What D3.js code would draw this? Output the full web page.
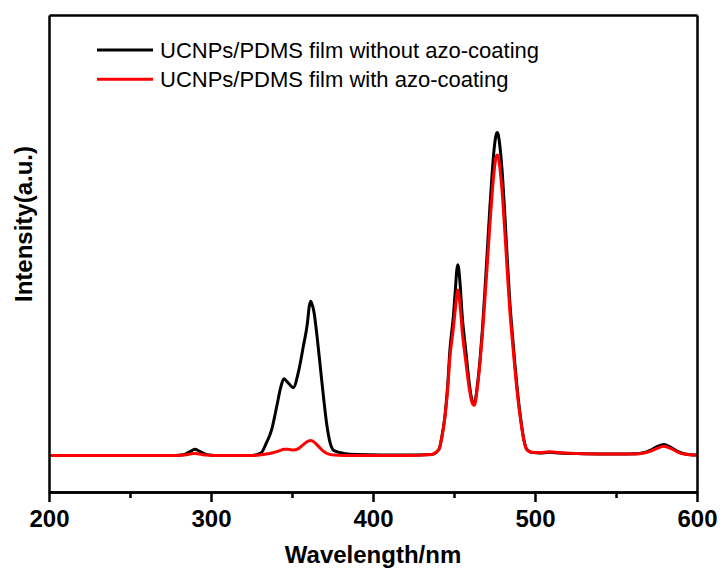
<!DOCTYPE html>
<meta charset="utf-8">
<style>

body {
  margin: 0;
  background: #fff;
}

.axis path,
.axis line {
  fill: none;
  stroke: #000;
  stroke-width: 2.5px;
}

.axis text {
  font: bold 24px "Liberation Sans", Arial, sans-serif;
  fill: #000;
}

.line {
  fill: none;
  stroke-width: 3px;
  stroke-linejoin: round;
}

.legend text {
  font: 22px "Liberation Sans", Arial, sans-serif;
  fill: #000;
}

.label {
  font: bold 24px "Liberation Sans", Arial, sans-serif;
  fill: #000;
}

</style>
<svg class="chart"></svg>
<script src="https://d3js.org/d3.v7.min.js"></script>
<script>

// wavelength samples (nm)
var wavelength = [200, 250, 278, 283, 287, 290, 293, 297, 302, 325,
  331, 334, 337.5, 340.6, 343, 345, 347.5, 350.8, 353.9, 357,
  359.5, 360.6, 361.5, 362.4, 363.5, 365.5, 367.5, 369.5, 371.5, 373.5, 376, 382,
  390, 420, 436, 440.7, 442.5, 444.4, 446, 447.5, 449.6, 451,
  451.7, 452.3, 452.9, 453.7, 455.1, 457.2, 459.5, 461, 462.5, 464.5, 466, 467.5,
  469, 470.5, 472, 473.5, 475, 475.9, 476.7, 477.5, 478.4, 480, 481.5, 483,
  484.5, 486, 487.6, 489.5, 491.4, 493, 494.9, 498, 503, 509, 515,
  530, 550, 562, 567, 571, 575, 579.6, 584, 588, 592,
  596, 600];

// UCNPs/PDMS film without azo-coating
var withoutCoating = [0, 0, 0, 0.2, 1.1, 1.8, 1.2, 0.3, 0, 0,
  0.8, 3.5, 7.7, 14.5, 20, 22.6, 21.5, 20, 24.5, 32.2,
  39, 43.8, 45.5, 44.6, 42.5, 35, 26, 17, 9, 3.8, 1.4, 0.6,
  0.3, 0.1, 0.3, 1.8, 5.5, 11.6, 20, 31.3, 41, 50,
  54.6, 56.3, 55.2, 51, 41, 31.3, 21, 16.5, 15.3, 21, 28, 37,
  48, 60, 72, 83, 91.5, 94.4, 95.3, 94.3, 91, 82, 70, 57,
  45, 36, 27, 17.5, 10, 5, 1.8, 0.9, 0.7, 0.9, 0.7,
  0.5, 0.4, 0.5, 0.8, 1.5, 2.5, 3.2, 2.3, 1.2, 0.5,
  0.2, 0.1];

// UCNPs/PDMS film with azo-coating
var withCoating = [0, 0, 0, 0.1, 0.4, 0.6, 0.4, 0.1, 0, 0,
  0.2, 0.4, 0.7, 1.1, 1.5, 1.8, 1.8, 1.6, 2, 3.2,
  4.1, 4.3, 4.4, 4.3, 4, 3.1, 2.1, 1.2, 0.6, 0.3, 0.1, 0,
  0, 0, 0.3, 1.8, 5.3, 11.2, 19, 29, 37.5, 44,
  47.4, 48.8, 47.8, 44.5, 36.5, 28, 19.5, 15.8, 14.8, 20.3, 27, 35.5,
  45.5, 56, 67, 77, 85, 87.9, 88.7, 87.8, 84.5, 76, 65, 53.5,
  42.5, 34, 25.5, 16.5, 9.5, 4.8, 1.7, 0.9, 0.8, 1.1, 0.8,
  0.5, 0.4, 0.4, 0.7, 1.2, 2, 2.7, 2, 1, 0.4,
  0.2, 0.1];

var seriesNames = ["UCNPs/PDMS film without azo-coating", "UCNPs/PDMS film with azo-coating"];
var seriesColors = ["#000000", "#ff0000"];
var majorTicks = [200, 300, 400, 500, 600];
var minorTicks = [250, 350, 450, 550];

var margin = {top: 15, right: 24, bottom: 77, left: 49},
    width = 721 - margin.left - margin.right,
    height = 569 - margin.top - margin.bottom;

var x = d3.scaleLinear()
    .domain([200, 600])
    .range([0, width]);

var y = d3.scaleLinear()
    .domain([-10.8, 130])
    .range([height, 0]);

var svg = d3.select(".chart")
    .attr("width", width + margin.left + margin.right)
    .attr("height", height + margin.top + margin.bottom);

var chart = svg.append("g")
    .attr("transform", "translate(" + margin.left + "," + margin.top + ")");

var series = [withoutCoating, withCoating];

var line = d3.line()
    .x(function (d) { return x(d[0]); })
    .y(function (d) { return y(d[1]); })
    .curve(d3.curveMonotoneX);

series.forEach(function (vals, i) {
  chart.append("path")
      .attr("class", "line")
      .attr("stroke", seriesColors[i])
      .attr("d", line(d3.zip(wavelength, vals)));
});

// minor ticks on the bottom
chart.append("g")
    .attr("class", "axis")
    .attr("transform", "translate(0," + height + ")")
    .call(d3.axisBottom(x).tickValues(minorTicks).tickSize(6).tickSizeOuter(0).tickFormat(""));

// major ticks + labels
var xAxis = chart.append("g")
    .attr("class", "x axis")
    .attr("transform", "translate(0," + height + ")")
    .call(d3.axisBottom(x).tickValues(majorTicks).tickSize(10).tickSizeOuter(0).tickPadding(8).tickFormat(d3.format("d")));

xAxis.selectAll("text").attr("dy", "0.71em");

// frame: left, top and right without ticks
chart.append("g")
    .attr("class", "axis")
    .call(d3.axisLeft(y).tickValues([]).tickSizeOuter(0));

chart.append("g")
    .attr("class", "axis")
    .call(d3.axisTop(x).tickValues([]).tickSizeOuter(0));

chart.append("g")
    .attr("class", "axis")
    .attr("transform", "translate(" + width + ",0)")
    .call(d3.axisRight(y).tickValues([]).tickSizeOuter(0));

// axis titles
svg.append("text")
    .attr("class", "label")
    .attr("x", margin.left + width / 2)
    .attr("y", 563)
    .style("text-anchor", "middle")
    .text("Wavelength/nm");

svg.append("text")
    .attr("class", "label")
    .attr("transform", "translate(32,224) rotate(-90)")
    .style("text-anchor", "middle")
    .text("Intensity(a.u.)");

// legend
var legend = svg.append("g")
    .attr("class", "legend")
    .selectAll("g")
    .data(seriesNames)
    .enter().append("g")
    .attr("transform", function (d, i) { return "translate(97," + (50 + i * 29.3) + ")"; });

legend.append("line")
    .attr("x1", 0)
    .attr("x2", 56)
    .attr("stroke", function (d, i) { return seriesColors[i]; })
    .attr("stroke-width", 3);

legend.append("text")
    .attr("x", 63)
    .attr("y", 7.5)
    .text(function (d) { return d; });

</script>
